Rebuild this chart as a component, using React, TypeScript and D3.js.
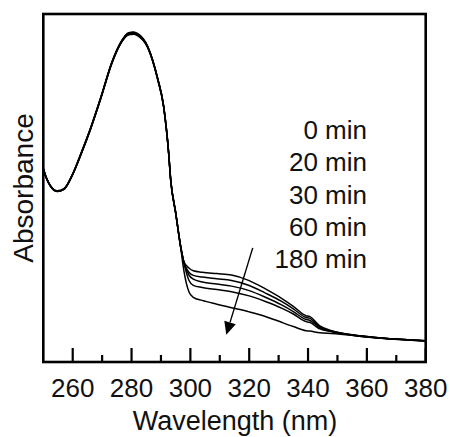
import React from "react";
import * as d3 from "d3";

const wavelengths = [250, 251, 252.5, 254.7, 257, 260, 263, 266, 269.4, 273.4, 276, 279, 280.7, 282, 285.5, 288.9, 290.9, 292.6, 293.3, 295, 296.7,
  297.8, 299.5, 301, 304, 309, 314, 320, 325.5, 331, 335, 339.3, 340.5, 344, 348, 355, 365, 380];

const abs0 = [0.556, 0.531, 0.506, 0.492, 0.498, 0.541, 0.604, 0.671, 0.757, 0.864, 0.914, 0.946, 0.948, 0.944, 0.907, 0.815, 0.737, 0.604, 0.526, 0.431, 0.333,
  0.288, 0.270, 0.262, 0.258, 0.254, 0.250, 0.234, 0.210, 0.183, 0.160, 0.133, 0.131, 0.104, 0.090, 0.078, 0.069, 0.061];
const abs20 = [0.556, 0.530, 0.505, 0.491, 0.497, 0.540, 0.603, 0.670, 0.756, 0.863, 0.913, 0.945, 0.947, 0.943, 0.906, 0.814, 0.736, 0.603, 0.525, 0.430, 0.332,
  0.287, 0.258, 0.249, 0.244, 0.239, 0.234, 0.220, 0.198, 0.174, 0.153, 0.128, 0.126, 0.100, 0.089, 0.078, 0.069, 0.061];
const abs30 = [0.555, 0.530, 0.505, 0.491, 0.497, 0.540, 0.602, 0.669, 0.755, 0.862, 0.912, 0.943, 0.945, 0.941, 0.905, 0.813, 0.735, 0.602, 0.524, 0.429, 0.331,
  0.286, 0.250, 0.238, 0.230, 0.224, 0.218, 0.205, 0.186, 0.164, 0.145, 0.122, 0.120, 0.098, 0.088, 0.077, 0.069, 0.061];
const abs60 = [0.554, 0.529, 0.504, 0.490, 0.496, 0.539, 0.601, 0.668, 0.754, 0.861, 0.911, 0.941, 0.943, 0.939, 0.904, 0.812, 0.734, 0.601, 0.523, 0.428, 0.330,
  0.285, 0.235, 0.220, 0.214, 0.208, 0.202, 0.190, 0.174, 0.155, 0.138, 0.116, 0.114, 0.095, 0.087, 0.077, 0.068, 0.060];
const abs180 = [0.554, 0.529, 0.504, 0.490, 0.496, 0.539, 0.600, 0.667, 0.753, 0.860, 0.910, 0.940, 0.942, 0.938, 0.903, 0.811, 0.733, 0.600, 0.522, 0.427, 0.329,
  0.262, 0.202, 0.186, 0.177, 0.166, 0.156, 0.144, 0.131, 0.114, 0.102, 0.090, 0.089, 0.084, 0.082, 0.077, 0.068, 0.060];

const seriesValues = [abs0, abs20, abs30, abs60, abs180];
const legendLabels = ["0 min", "20 min", "30 min", "60 min", "180 min"];
const majorTicks = [260, 280, 300, 320, 340, 360, 380];
const minorTicks = [270, 290, 310, 330, 350, 370];
const arrowFrom = [321.2, 0.328];
const arrowTo = [312.2, 0.078];

const W = 450, H = 437;
const L = 43.3, R = 425.7, T = 14, B = 362;
const FONT = "'Liberation Sans', Arial, Helvetica, sans-serif";

export default function App() {
  const x = d3.scaleLinear().domain([250, 380]).range([L, R]);
  const y = d3.scaleLinear().domain([0, 1]).range([B, T]);
  const line = d3.line<number>()
    .x((_, i) => x(wavelengths[i]))
    .y((d) => y(d))
    .curve(d3.curveMonotoneX);

  const ax1 = x(arrowFrom[0]), ay1 = y(arrowFrom[1]);
  const ax2 = x(arrowTo[0]), ay2 = y(arrowTo[1]);
  const ang = Math.atan2(ay2 - ay1, ax2 - ax1);
  const hl = 13, hw = 6;
  const bx = ax2 - hl * Math.cos(ang), by = ay2 - hl * Math.sin(ang);
  const px = -Math.sin(ang), py = Math.cos(ang);
  const head = `M${ax2},${ay2}L${bx + hw * px},${by + hw * py}L${bx - hw * px},${by - hw * py}Z`;

  return (
    <svg width={W} height={H} style={{ position: "absolute", left: 0, top: 0, background: "#fff" }} fontFamily={FONT}>
      <rect x={0} y={0} width={W} height={H} fill="#fff" />
      <defs>
        <clipPath id="clip">
          <rect x={L} y={T} width={R - L} height={B - T} />
        </clipPath>
      </defs>
      <g clipPath="url(#clip)">
        {seriesValues.map((vals, i) => (
          <path key={i} d={line(vals) || ""} fill="none" stroke="#000" strokeWidth={1.5} strokeLinejoin="round" />
        ))}
      </g>
      <line x1={ax1} y1={ay1} x2={bx} y2={by} stroke="#000" strokeWidth={1.4} />
      <path d={head} fill="#000" />
      {majorTicks.map((t) => (
        <g key={"M" + t}>
          <line x1={x(t)} x2={x(t)} y1={B} y2={B - 14} stroke="#000" strokeWidth={2.2} />
          <text x={x(t)} y={397} fontSize={26} textAnchor="middle" fill="#111">{t}</text>
        </g>
      ))}
      {minorTicks.map((t) => (
        <line key={"m" + t} x1={x(t)} x2={x(t)} y1={B} y2={B - 7} stroke="#000" strokeWidth={2.2} />
      ))}
      <rect x={L} y={T} width={R - L} height={B - T} fill="none" stroke="#000" strokeWidth={2.6} />
      {legendLabels.map((lab, i) => (
        <text key={lab} x={367} y={139 + i * 32.3} fontSize={26} textAnchor="end" fill="#111">{lab}</text>
      ))}
      <text x={235} y={430} fontSize={27} textAnchor="middle" fill="#111">Wavelength (nm)</text>
      <text transform={`translate(33,188) rotate(-90)`} fontSize={28} textAnchor="middle" fill="#111">Absorbance</text>
    </svg>
  );
}
